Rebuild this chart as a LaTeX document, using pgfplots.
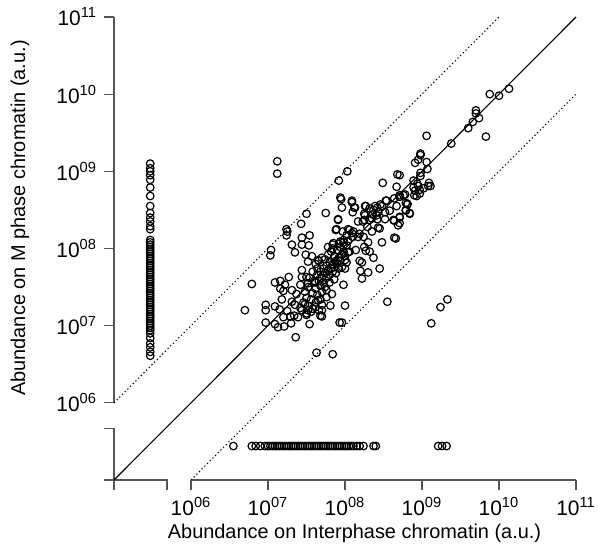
\documentclass[border=0pt]{standalone}
\usepackage{fontspec}
\setmainfont{Liberation Sans}
\usepackage{pgfplots}
\usepackage{pgfplotstable}
\pgfplotsset{compat=1.18}
\definecolor{axisgray}{RGB}{85,85,85}

% values are log10 of the abundance
\pgfplotstableread{
lx ly
9.88 10.00
10.00 9.98
10.13 10.07
9.70 9.79
9.70 9.75
9.74 9.69
9.66 9.64
9.60 9.56
9.38 9.36
9.06 9.46
9.83 9.45
8.98 9.23
8.98 9.21
8.91 9.11
8.95 9.15
9.06 9.12
9.07 9.03
8.98 8.98
8.98 8.94
8.89 8.88
9.09 8.85
9.11 8.81
9.08 8.81
9.02 8.78
8.95 8.81
8.89 8.79
8.91 8.75
8.97 8.71
8.93 8.68
8.76 8.69
8.78 8.70
8.81 8.58
8.79 8.50
8.84 8.46
8.71 8.41
8.71 8.33
8.71 8.95
9.33 7.34
9.24 7.24
9.12 7.03
8.49 8.85
8.67 8.80
8.94 8.84
8.97 8.76
8.90 8.69
8.71 8.69
8.64 8.65
8.53 8.62
8.46 8.57
8.39 8.55
8.32 8.52
8.26 8.55
8.09 8.60
8.12 8.53
7.94 8.66
7.96 8.53
7.75 8.46
8.10 8.47
8.25 8.45
8.36 8.44
8.43 8.47
8.52 8.47
8.58 8.49
8.67 8.55
8.81 8.57
8.79 8.49
8.84 8.45
8.52 8.38
8.42 8.38
8.32 8.37
8.23 8.35
8.17 8.35
8.71 8.40
8.64 8.36
8.69 8.30
7.91 8.37
7.88 8.24
7.97 8.22
8.06 8.24
8.11 8.22
8.19 8.19
8.29 8.28
8.35 8.22
8.45 8.26
8.24 8.15
8.17 8.15
8.10 8.15
8.02 8.17
7.98 8.11
8.48 8.08
8.64 8.14
8.66 8.13
8.30 8.08
8.25 8.02
8.27 7.97
8.32 7.96
8.14 7.98
8.04 7.95
7.94 8.09
7.85 8.07
8.37 7.88
8.19 7.84
8.22 7.82
8.00 7.85
8.00 7.74
8.20 7.71
8.30 7.69
8.45 7.74
8.22 7.61
7.98 7.53
7.83 7.41
7.76 7.37
8.00 7.26
7.81 7.26
7.70 7.20
7.70 7.12
8.55 7.31
7.96 7.04
7.12 9.13
7.12 8.97
8.03 9.00
7.92 8.88
8.68 8.96
7.95 8.64
8.09 8.62
8.13 8.53
8.27 8.55
7.50 8.45
7.43 8.32
7.91 8.38
7.24 8.25
7.24 8.17
7.44 8.14
7.54 8.17
7.89 8.25
8.04 8.25
8.09 8.20
8.26 8.43
8.37 8.50
8.42 8.53
8.48 8.55
8.54 8.62
8.71 8.67
8.79 8.59
8.25 8.37
8.35 8.39
8.41 8.43
8.63 8.37
8.43 8.27
7.25 8.22
7.31 8.05
7.44 8.05
7.53 8.04
7.04 7.98
7.03 7.91
7.35 7.95
7.49 7.92
7.57 7.90
7.52 7.83
7.65 7.85
7.84 8.05
6.79 7.54
7.09 7.56
7.16 7.58
7.27 7.63
7.22 7.53
7.16 7.48
7.20 7.45
7.31 7.46
7.42 7.53
7.44 7.72
7.44 7.63
7.50 7.63
7.52 7.55
7.61 7.56
7.37 7.41
7.18 7.34
7.31 7.31
6.70 7.20
6.97 7.27
6.97 7.20
7.09 7.25
7.15 7.21
7.25 7.19
7.35 7.27
7.42 7.23
7.48 7.28
7.52 7.20
7.65 7.33
7.70 7.27
7.20 7.11
7.29 7.12
7.34 7.13
7.39 7.11
7.50 7.14
7.68 7.13
6.97 7.04
7.09 7.02
7.13 6.98
7.21 6.99
7.30 7.03
7.54 7.02
7.36 6.85
7.63 6.65
7.84 6.63
7.93 7.04
7.62 7.80
7.66 7.84
7.70 7.88
7.74 7.86
7.78 7.92
7.82 7.96
7.86 7.90
7.90 7.98
7.94 8.02
7.98 7.96
8.02 8.04
7.72 7.74
7.76 7.78
7.80 7.82
7.84 7.80
7.88 7.84
7.92 7.88
7.96 7.92
8.00 7.90
7.68 7.70
7.64 7.66
7.70 7.62
7.74 7.68
7.78 7.72
7.82 7.74
7.86 7.76
7.90 7.80
7.94 7.84
7.60 7.58
7.66 7.58
7.72 7.56
7.76 7.62
7.80 7.66
7.84 7.70
7.88 7.68
7.92 7.74
7.62 7.48
7.68 7.52
7.74 7.50
7.80 7.56
7.86 7.60
7.58 7.42
7.64 7.40
7.70 7.44
7.76 7.46
7.56 7.34
7.62 7.30
7.68 7.34
7.50 7.36
7.46 7.30
7.52 7.26
7.58 7.22
7.44 7.20
7.50 7.16
7.56 7.18
7.62 7.24
7.66 7.20
7.98 8.08
8.04 8.10
7.92 8.06
7.84 8.00
7.78 8.02
7.96 7.76
8.02 7.82
8.06 7.96
7.54 7.62
7.58 7.70
7.64 7.74
7.52 7.50
7.48 7.44
}\cloud

% not detected on interphase chromatin
\pgfplotstableread{
lx ly
5.47 9.10
5.47 9.04
5.47 9.00
5.47 8.95
5.47 8.89
5.47 8.79
5.47 8.68
5.47 8.55
5.47 8.46
5.47 8.40
5.47 8.35
5.47 8.29
5.47 8.25
5.47 8.11
5.47 8.08
5.47 8.05
5.47 8.02
5.47 7.99
5.47 7.96
5.47 7.93
5.47 7.90
5.47 7.87
5.47 7.84
5.47 7.81
5.47 7.78
5.47 7.75
5.47 7.72
5.47 7.69
5.47 7.66
5.47 7.63
5.47 7.60
5.47 7.57
5.47 7.54
5.47 7.51
5.47 7.48
5.47 7.45
5.47 7.42
5.47 7.39
5.47 7.36
5.47 7.33
5.47 7.30
5.47 7.27
5.47 7.24
5.47 7.21
5.47 7.18
5.47 7.15
5.47 7.12
5.47 7.09
5.47 7.06
5.47 7.03
5.47 7.00
5.47 6.97
5.47 6.94
5.47 6.90
5.47 6.84
5.47 6.77
5.47 6.72
5.47 6.66
5.47 6.61
}\zerox

% not detected on M phase chromatin
\pgfplotstableread{
lx ly
6.55 5.44
6.79 5.44
6.84 5.44
6.90 5.44
6.96 5.44
7.00 5.44
7.03 5.44
7.06 5.44
7.09 5.44
7.12 5.44
7.15 5.44
7.18 5.44
7.21 5.44
7.24 5.44
7.27 5.44
7.30 5.44
7.33 5.44
7.36 5.44
7.39 5.44
7.42 5.44
7.45 5.44
7.48 5.44
7.51 5.44
7.54 5.44
7.57 5.44
7.60 5.44
7.63 5.44
7.66 5.44
7.69 5.44
7.72 5.44
7.75 5.44
7.78 5.44
7.81 5.44
7.84 5.44
7.87 5.44
7.90 5.44
7.93 5.44
7.96 5.44
7.99 5.44
8.02 5.44
8.05 5.44
8.08 5.44
8.11 5.44
8.15 5.44
8.19 5.44
8.24 5.44
8.37 5.44
8.40 5.44
9.21 5.44
9.26 5.44
9.32 5.44
}\zeroy

\begin{document}
\begin{tikzpicture}
\begin{axis}[
  scale only axis, width=231bp, height=231.5bp,
  xmin=5, xmax=11, ymin=5, ymax=11,
  axis x line*=bottom, axis y line*=left,
  axis line style={draw=none},
  xtick={6,7,8,9,10,11}, ytick={6,7,8,9,10,11},
  xticklabels={10\textsuperscript{06},10\textsuperscript{07},10\textsuperscript{08},10\textsuperscript{09},10\textsuperscript{10},10\textsuperscript{11}},
  yticklabels={10\textsuperscript{06},10\textsuperscript{07},10\textsuperscript{08},10\textsuperscript{09},10\textsuperscript{10},10\textsuperscript{11}},
  tick align=outside, major tick length=5bp,
  tick style={axisgray, line width=0.65bp},
  ticklabel style={font=\fontsize{10.5}{12}\selectfont},
  clip=false,
]
% axis segments
\draw[axisgray, line width=0.65bp] (axis cs:5,6) -- (axis cs:5,11);
\draw[axisgray, line width=0.65bp] ([xshift=-5bp]axis cs:5,5.67) -- (axis cs:5,5.67) -- (axis cs:5,5) -- (axis cs:5.69,5) -- ([yshift=-5bp]axis cs:5.69,5);
\draw[axisgray, line width=0.65bp] ([xshift=-5bp]axis cs:5,5) -- (axis cs:5,5) -- ([yshift=-5bp]axis cs:5,5);
\draw[axisgray, line width=0.65bp] (axis cs:6,5) -- (axis cs:11,5);

\addplot[black, line width=0.55bp] coordinates {(5,5) (11,11)};
\addplot[black, line width=0.55bp, dash pattern=on 0.6bp off 1.3bp] coordinates {(5,6) (10,11)};
\addplot[black, line width=0.55bp, dash pattern=on 0.6bp off 1.3bp] coordinates {(6,5) (11,10)};

\addplot[only marks, mark=o, mark size=1.9bp, black, mark options={line width=0.6bp}] table[x=lx, y=ly] {\cloud};
\addplot[only marks, mark=o, mark size=1.9bp, black, mark options={line width=0.6bp}] table[x=lx, y=ly] {\zerox};
\addplot[only marks, mark=o, mark size=1.9bp, black, mark options={line width=0.6bp}] table[x=lx, y=ly] {\zeroy};

\node[rotate=90, font=\fontsize{10}{12}\selectfont] at (rel axis cs:-0.2035,0.566) {Abundance on M phase chromatin (a.u.)};
\node[font=\fontsize{10}{12}\selectfont] at (rel axis cs:0.5206,-0.1145) {Abundance on Interphase chromatin (a.u.)};

\coordinate (bbll) at (rel axis cs:-0.2468,-0.1685);
\coordinate (bbur) at (rel axis cs:1.0476,1.0367);
\end{axis}
\pgfresetboundingbox
\path[use as bounding box] (bbll) rectangle (bbur);
\end{tikzpicture}
\end{document}
